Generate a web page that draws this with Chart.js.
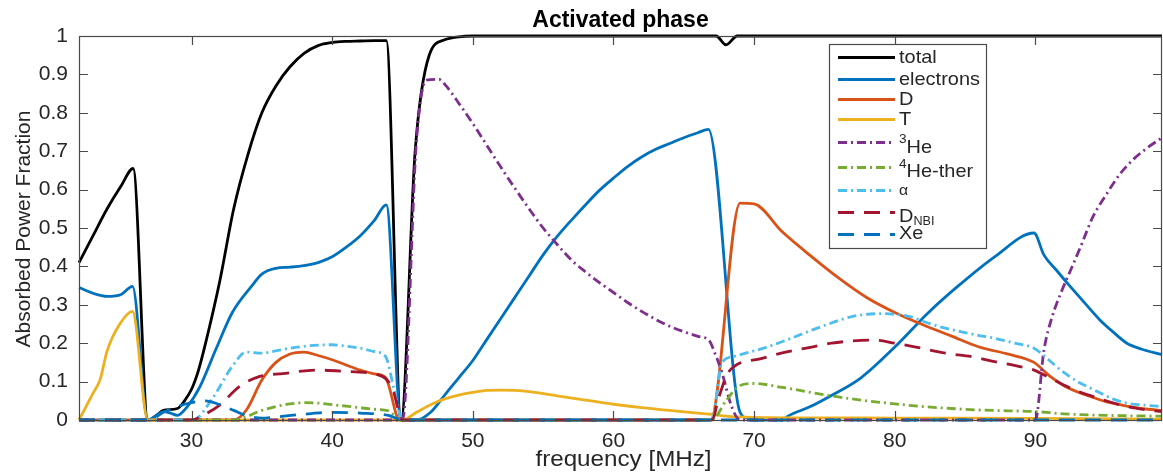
<!DOCTYPE html>
<html>
<head>
<meta charset="utf-8">
<script src="https://cdn.jsdelivr.net/npm/chart.js@4.4.1/dist/chart.umd.min.js"></script>
<style>
  html, body { margin: 0; padding: 0; background: #fff; }
  #absChart { display: block; }
</style>
</head>
<body>
<canvas id="absChart" width="1163" height="475"></canvas>
<script>
// absorbed power fraction vs antenna frequency, one pair of arrays per species
const totalFreq = [22, 23, 24, 25, 25.85, 26.9, 27.5, 28, 29, 29.5, 30, 30.5, 31, 32, 33, 34, 35, 36, 37, 38, 39, 40, 41, 42, 43, 43.85, 44.9, 45.9, 46.9, 48, 49, 50, 60, 67.3, 68, 68.8, 80, 90, 99];
const totalVal  = [0.41, 0.48, 0.55, 0.61, 0.655, 0, 0.012, 0.025, 0.03, 0.05, 0.08, 0.13, 0.2, 0.36, 0.55, 0.69, 0.8, 0.87, 0.92, 0.955, 0.975, 0.983, 0.986, 0.987, 0.988, 0.988, 0, 0.7, 0.95, 0.99, 0.998, 1, 1, 1, 0.977, 1, 1, 1, 1];

const elecFreq = [22, 23, 24, 25, 25.8, 26.9, 27.5, 28, 28.5, 29, 29.7, 30.6, 31.8, 32.9, 34.3, 35, 36, 37, 38, 39, 40, 41, 42, 43, 43.85, 44.9, 46, 47, 48, 49, 50, 51, 52, 53, 54, 55, 56, 57, 58, 59, 60, 61, 62, 63, 64, 65, 66, 66.75, 69, 69.5, 70, 72, 72.4, 74, 75.3, 77.6, 80, 82.4, 84.7, 87.1, 89.9, 90.6, 91.5, 92.3, 93.5, 94.6, 95.5, 96.5, 97.5, 99];
const elecVal  = [0.345, 0.33, 0.322, 0.327, 0.348, 0, 0.012, 0.022, 0.018, 0.012, 0.035, 0.087, 0.19, 0.28, 0.35, 0.38, 0.395, 0.398, 0.402, 0.41, 0.425, 0.45, 0.48, 0.52, 0.56, 0, 0, 0.02, 0.065, 0.11, 0.155, 0.21, 0.265, 0.32, 0.375, 0.43, 0.478, 0.52, 0.56, 0.598, 0.63, 0.66, 0.685, 0.705, 0.72, 0.735, 0.748, 0.757, 0.02, 0.005, 0, 0, 0.01, 0.035, 0.06, 0.11, 0.19, 0.28, 0.355, 0.425, 0.487, 0.43, 0.39, 0.355, 0.305, 0.26, 0.23, 0.2, 0.185, 0.17];

const dFreq = [22, 33, 33.9, 35, 36, 37, 38, 39, 40, 41, 42, 43, 43.8, 44.8, 66.9, 69, 70, 72, 74, 76, 78, 80, 82, 84, 86, 88, 89.9, 91, 92, 93, 94, 95, 96, 97, 98, 99];
const dVal  = [0, 0, 0.026, 0.104, 0.15, 0.172, 0.177, 0.168, 0.157, 0.143, 0.13, 0.12, 0.11, 0, 0, 0.565, 0.563, 0.49, 0.428, 0.37, 0.319, 0.28, 0.248, 0.219, 0.19, 0.172, 0.15, 0.115, 0.09, 0.073, 0.06, 0.048, 0.04, 0.033, 0.028, 0.025];

const tFreq = [22, 23, 23.5, 24, 24.9, 25.8, 26.9, 45, 46, 47, 48, 49, 50, 51, 52, 53, 54, 56, 58, 60, 62, 64, 66, 67, 68, 70, 80, 90, 99];
const tVal  = [0, 0.07, 0.105, 0.18, 0.25, 0.283, 0, 0, 0.02, 0.04, 0.055, 0.065, 0.072, 0.077, 0.078, 0.077, 0.074, 0.063, 0.052, 0.041, 0.032, 0.025, 0.018, 0.015, 0.01, 0.007, 0.005, 0.004, 0.002];

const he3Freq = [22, 45, 46, 46.7, 47.6, 48.1, 49, 50, 51, 52, 53, 54, 55, 56, 57, 58, 59, 60, 61, 62, 63, 64, 65, 66, 66.8, 67.2, 67.7, 68.4, 69, 90, 90.6, 91.2, 91.8, 92.5, 93.2, 94.1, 95, 96, 97, 98, 99];
const he3Val  = [0, 0, 0.73, 0.885, 0.887, 0.87, 0.825, 0.772, 0.715, 0.658, 0.603, 0.55, 0.5, 0.457, 0.417, 0.386, 0.358, 0.332, 0.306, 0.283, 0.262, 0.244, 0.23, 0.218, 0.207, 0.175, 0.125, 0.035, 0, 0, 0.18, 0.27, 0.33, 0.39, 0.45, 0.53, 0.585, 0.64, 0.68, 0.71, 0.735];

const he4Freq = [22, 33.2, 34, 35, 36, 37, 38, 39, 40, 41, 42, 43, 44, 44.9, 67, 68, 69, 70, 72, 74, 76, 78, 80, 82, 84, 86, 88, 90, 92, 95, 99];
const he4Val  = [0, 0, 0.01, 0.025, 0.035, 0.042, 0.045, 0.044, 0.04, 0.036, 0.032, 0.028, 0.024, 0, 0, 0.05, 0.09, 0.095, 0.085, 0.072, 0.06, 0.05, 0.042, 0.035, 0.03, 0.026, 0.024, 0.022, 0.016, 0.012, 0.01];

const alphaFreq = [22, 30.1, 31.5, 32.9, 33.9, 35, 36, 37, 38, 39, 40, 41, 42, 43, 43.8, 44.4, 45, 67, 67.7, 68.5, 69.4, 70.5, 71.7, 73, 74.1, 75.3, 76.5, 77.5, 78.3, 79, 80, 81, 82.4, 83.5, 84.7, 86, 87.1, 88.5, 89.9, 91, 91.8, 93, 94.2, 95.5, 96.5, 98, 99];
const alphaVal  = [0, 0, 0.057, 0.14, 0.177, 0.174, 0.18, 0.187, 0.192, 0.195, 0.196, 0.192, 0.187, 0.178, 0.165, 0.08, 0, 0, 0.148, 0.165, 0.174, 0.185, 0.2, 0.218, 0.234, 0.25, 0.265, 0.273, 0.276, 0.277, 0.275, 0.27, 0.252, 0.24, 0.23, 0.22, 0.213, 0.2, 0.187, 0.155, 0.13, 0.1, 0.078, 0.055, 0.044, 0.038, 0.035];

const nbiFreq = [22, 30, 30.6, 32, 33.4, 34.8, 36.5, 38.9, 41.2, 43.6, 44.3, 45, 67, 67.5, 68.2, 70.5, 72, 74.1, 75.5, 77, 78.5, 80, 81.5, 83.6, 85.5, 87.1, 88.5, 89.9, 91, 91.8, 93, 94.2, 95.5, 96.5, 98, 99];
const nbiVal  = [0, 0, 0.008, 0.039, 0.087, 0.113, 0.121, 0.13, 0.126, 0.113, 0.08, 0, 0, 0.06, 0.126, 0.16, 0.175, 0.19, 0.2, 0.206, 0.208, 0.2, 0.19, 0.174, 0.165, 0.152, 0.142, 0.13, 0.11, 0.095, 0.075, 0.06, 0.045, 0.035, 0.026, 0.022];

const xeFreq = [22, 27, 28, 29, 30, 31, 32, 33, 34, 35, 36, 38, 40, 42, 44, 45, 99];
const xeVal  = [0, 0, 0.02, 0.035, 0.045, 0.05, 0.04, 0.025, 0.01, 0.005, 0.008, 0.015, 0.02, 0.018, 0.012, 0, 0];

const xTicks = [30, 40, 50, 60, 70, 80, 90];
const yTicks = [0, 0.1, 0.2, 0.3, 0.4, 0.5, 0.6, 0.7, 0.8, 0.9, 1];

const DASH_DOT = [9, 4, 2, 4];
const DASHED = [16, 10];

function pts(fx, vy) {
  return fx.map((f, i) => ({ x: f, y: vy[i] }));
}

const series = [
  { label: 'total',     data: pts(totalFreq, totalVal), color: '#000000', dash: [] },
  { label: 'electrons', data: pts(elecFreq, elecVal),   color: '#0072BD', dash: [] },
  { label: 'D',         data: pts(dFreq, dVal),         color: '#D95319', dash: [] },
  { label: 'T',         data: pts(tFreq, tVal),         color: '#EDB120', dash: [] },
  { label: '3He',       data: pts(he3Freq, he3Val),     color: '#7E2F8E', dash: DASH_DOT },
  { label: '4He-ther',  data: pts(he4Freq, he4Val),     color: '#77AC30', dash: DASH_DOT },
  { label: 'alpha',     data: pts(alphaFreq, alphaVal), color: '#4DBEEE', dash: DASH_DOT },
  { label: 'D_NBI',     data: pts(nbiFreq, nbiVal),     color: '#A2142F', dash: DASHED },
  { label: 'Xe',        data: pts(xeFreq, xeVal),       color: '#0072BD', dash: DASHED }
];

const AXIS = '#262626';
const FONT = '"Liberation Sans", Arial, Helvetica, sans-serif';

function stretchText(ctx, text, x, y, font, align, sx) {
  ctx.save();
  ctx.font = font;
  ctx.translate(x, y);
  ctx.scale(sx, 1);
  ctx.textAlign = align;
  ctx.textBaseline = 'alphabetic';
  ctx.fillText(text, 0, 0);
  ctx.restore();
}

function textWidth(ctx, text, font) {
  ctx.save();
  ctx.font = font;
  const w = ctx.measureText(text).width;
  ctx.restore();
  return w;
}

// box, inward ticks, titles and the legend, matlab style
const decorations = {
  id: 'decorations',
  afterDraw(chart) {
    const ctx = chart.ctx;
    const a = chart.chartArea;
    const xs = chart.scales.x, ys = chart.scales.y;

    ctx.save();
    ctx.strokeStyle = '#4a4a4a';
    ctx.lineWidth = 1.2;
    ctx.strokeRect(a.left + 0.5, a.top + 0.5, a.right - a.left - 1, a.bottom - a.top);

    ctx.beginPath();
    xTicks.forEach(v => {
      const px = Math.round(xs.getPixelForValue(v)) + 0.5;
      ctx.moveTo(px, a.bottom); ctx.lineTo(px, a.bottom - 9);
      ctx.moveTo(px, a.top); ctx.lineTo(px, a.top + 9);
    });
    yTicks.forEach(v => {
      const py = Math.round(ys.getPixelForValue(v)) + 0.5;
      ctx.moveTo(a.left, py); ctx.lineTo(a.left + 9, py);
      ctx.moveTo(a.right, py); ctx.lineTo(a.right - 9, py);
    });
    ctx.stroke();

    ctx.fillStyle = '#000';
    stretchText(ctx, 'Activated phase', (a.left + a.right) / 2, 27, 'bold 23px ' + FONT, 'center', 1);
    ctx.fillStyle = AXIS;
    stretchText(ctx, 'frequency [MHz]', (a.left + a.right) / 2 + 3, 466, '22px ' + FONT, 'center', 1.1);

    ctx.save();
    ctx.translate(30, (a.top + a.bottom) / 2 + 1);
    ctx.rotate(-Math.PI / 2);
    ctx.font = '21px ' + FONT;
    ctx.textAlign = 'center';
    ctx.textBaseline = 'alphabetic';
    ctx.fillText('Absorbed Power Fraction', 0, 0);
    ctx.restore();

    // legend
    const bx = 829, by = 44, bw = 157, bh = 204;
    ctx.fillStyle = '#fff';
    ctx.fillRect(bx, by, bw, bh);
    ctx.strokeStyle = '#4a4a4a';
    ctx.lineWidth = 1.2;
    ctx.strokeRect(bx + 0.5, by + 0.5, bw, bh);

    const rowY = [57, 79, 99, 119, 142, 167, 190, 212, 234];
    const textDy = [6, 6, 6, 6, 11, 10, 5, 10, 5];
    const parts = [
      [['total', 19, 0]],
      [['electrons', 19, 0]],
      [['D', 19, 0]],
      [['T', 19, 0]],
      [['3', 13, -10], ['He', 19, 0]],
      [['4', 13, -9], ['He-ther', 19, 0]],
      [['\u03b1', 15, 0]],
      [['D', 19, 0], ['NBI', 12, 3]],
      [['Xe', 19, 0]]
    ];
    chart.data.datasets.forEach((ds, i) => {
      const y = rowY[i] + 0.5;
      ctx.strokeStyle = ds.borderColor;
      ctx.lineWidth = 3;
      ctx.setLineDash(ds.borderDash || []);
      ctx.beginPath();
      ctx.moveTo(838, y); ctx.lineTo(895, y);
      ctx.stroke();
      ctx.setLineDash([]);

      let tx = 899;
      ctx.fillStyle = AXIS;
      parts[i].forEach(([txt, size, dy]) => {
        const font = size + 'px ' + FONT;
        stretchText(ctx, txt, tx, rowY[i] + textDy[i] + dy, font, 'left', 1.05);
        tx += textWidth(ctx, txt, font) * 1.05;
      });
    });
    ctx.restore();
  }
};

new Chart(document.getElementById('absChart'), {
  type: 'line',
  data: {
    datasets: series.map((s, i) => ({
      label: s.label,
      data: s.data,
      borderColor: s.color,
      backgroundColor: s.color,
      borderWidth: 2.8,
      borderDash: s.dash,
      borderCapStyle: 'butt',
      borderJoinStyle: 'round',
      pointRadius: 0,
      cubicInterpolationMode: 'monotone',
      fill: false,
      clip: false,
      order: series.length - i
    }))
  },
  options: {
    responsive: false,
    devicePixelRatio: 1,
    animation: false,
    layout: { padding: { left: 0, right: 1, top: 36, bottom: 0 } },
    plugins: { legend: { display: false }, title: { display: false }, tooltip: { enabled: false } },
    scales: {
      x: {
        type: 'linear',
        min: 22,
        max: 99,
        grid: { display: false, drawTicks: false },
        border: { display: false },
        afterBuildTicks: s => { s.ticks = xTicks.map(v => ({ value: v })); },
        afterFit: s => { s.height = 55; },
        ticks: { color: AXIS, font: { family: FONT, size: 21 }, padding: 9, maxRotation: 0, autoSkip: false }
      },
      y: {
        min: 0,
        max: 1,
        grid: { display: false, drawTicks: false },
        border: { display: false },
        afterBuildTicks: s => { s.ticks = yTicks.map(v => ({ value: v })); },
        afterFit: s => { s.width = 79; },
        ticks: {
          color: AXIS,
          font: { family: FONT, size: 21 },
          padding: 11,
          callback: v => String(Number(v.toFixed(1)))
        }
      }
    }
  },
  plugins: [decorations]
});
</script>
</body>
</html>
